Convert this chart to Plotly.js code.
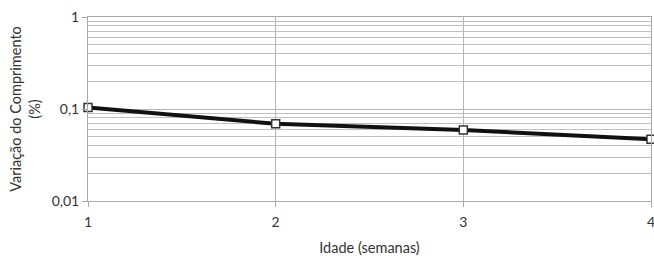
<!DOCTYPE html>
<html><head><meta charset="utf-8">
<script src="https://cdn.plot.ly/plotly-3.0.1.min.js"></script>
<style>html,body{margin:0;padding:0;background:#fff}</style>
</head><body>
<div id="chart" style="width:654px;height:259px"></div>
<script>
const weeks = [1, 2, 3, 4];
const variation = [0.104, 0.069, 0.059, 0.047];
const yTickVals = [0.01, 0.1, 1];
const yTickText = ["0,01", "0,1", "1"];
const xTickVals = [1, 2, 3, 4];
const xTickText = ["1", "2", "3", "4"];

const trace = {
  x: weeks, y: variation, type: 'scatter', mode: 'lines+markers',
  line: {color: '#111', width: 4},
  marker: {symbol: 'square', size: 8, color: '#fff', line: {color: '#333', width: 1.5}},
  cliponaxis: false, hoverinfo: 'none'
};
const layout = {
  width: 654, height: 259,
  margin: {l: 88, r: 3, t: 17, b: 58},
  paper_bgcolor: '#fff', plot_bgcolor: '#fff',
  font: {family: 'Lato, sans-serif', color: '#333'},
  showlegend: false,
  xaxis: {
    range: [1, 4], tickvals: xTickVals, ticktext: xTickText,
    showgrid: true, gridcolor: '#b5b5b5', gridwidth: 1,
    zeroline: false, showline: true, linecolor: '#a8a8a8', linewidth: 1, mirror: true,
    ticks: 'outside', ticklen: 5, tickcolor: '#a8a8a8',
    ticklabeloverflow: 'allow', ticklabelstandoff: 3,
    tickfont: {size: 14, color: '#333'},
    title: {text: 'Idade (semanas)', font: {size: 14.5, color: '#333'}, standoff: 14}
  },
  yaxis: {
    type: 'log', range: [-2, 0], tickvals: yTickVals, ticktext: yTickText,
    showgrid: true, gridcolor: '#b5b5b5', gridwidth: 1,
    minor: {dtick: 'D1', showgrid: true, gridcolor: '#c0c0c0', gridwidth: 1, ticks: ''},
    zeroline: false, showline: true, linecolor: '#a8a8a8', linewidth: 1, mirror: true,
    ticks: 'outside', ticklen: 5, tickcolor: '#a8a8a8',
    tickfont: {size: 14, color: '#333'},
    title: {text: 'Variação do Comprimento<br>(%)', font: {size: 14.5, color: '#333'}, standoff: 7}
  }
};
Plotly.newPlot('chart', [trace], layout, {staticPlot: true});
</script>
</body></html>
